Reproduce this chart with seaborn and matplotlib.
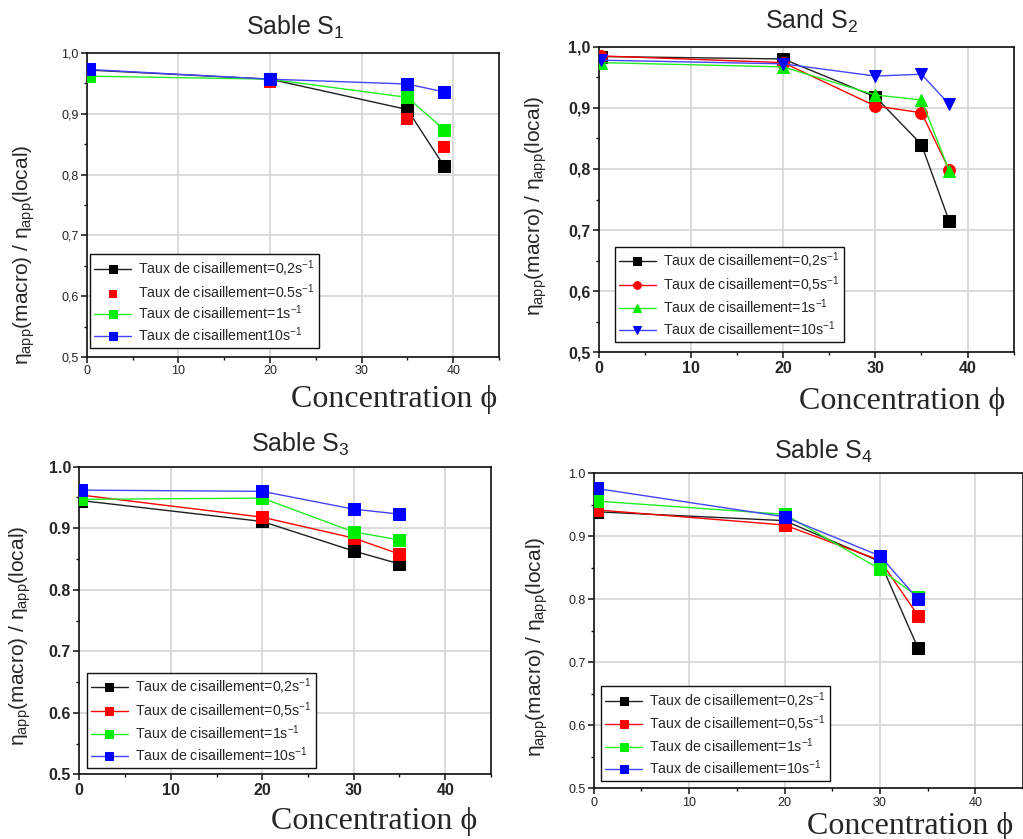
import matplotlib
matplotlib.use("Agg")
import matplotlib.pyplot as plt
from matplotlib.ticker import MultipleLocator, FuncFormatter
import seaborn as sns
import numpy as np

# ---------------- data ----------------
s1_x = [0.2, 20, 35, 39]
s1_02 = [0.972, 0.957, 0.907, 0.814]
s1_05 = [0.970, 0.953, 0.891, 0.846]
s1_1 = [0.962, 0.957, 0.927, 0.874]
s1_10 = [0.973, 0.957, 0.949, 0.936]
s1_labels = ["Taux de cisaillement=0,2s$^{-1}$", "Taux de cisaillement=0.5s$^{-1}$",
             "Taux de cisaillement=1s$^{-1}$", "Taux de cisaillement10s$^{-1}$"]

s2_x = [0.2, 20, 30, 35, 38]
s2_02 = [0.984, 0.980, 0.918, 0.840, 0.715]
s2_05 = [0.985, 0.974, 0.903, 0.892, 0.799]
s2_1 = [0.974, 0.967, 0.921, 0.913, 0.797]
s2_10 = [0.978, 0.972, 0.952, 0.955, 0.906]
s2_labels = ["Taux de cisaillement=0,2s$^{-1}$", "Taux de cisaillement=0,5s$^{-1}$",
             "Taux de cisaillement=1s$^{-1}$", "Taux de cisaillement=10s$^{-1}$"]

s3_x = [0.2, 20, 30, 35]
s3_02 = [0.945, 0.911, 0.863, 0.842]
s3_05 = [0.954, 0.918, 0.884, 0.858]
s3_1 = [0.947, 0.949, 0.894, 0.881]
s3_10 = [0.962, 0.960, 0.931, 0.923]
s3_labels = s2_labels

s4_x = [0.3, 20, 30, 34]
s4_02 = [0.939, 0.925, 0.860, 0.722]
s4_05 = [0.942, 0.918, 0.862, 0.774]
s4_1 = [0.956, 0.935, 0.848, 0.804]
s4_10 = [0.976, 0.931, 0.869, 0.800]
s4_labels = s2_labels

titles = ["Sable S$_1$", "Sand S$_2$", "Sable S$_3$", "Sable S$_4$"]
xlabel = "Concentration ϕ"
ylabel = "η$_{\\rm app}$(macro) / η$_{\\rm app}$(local)"

colors = ["#000000", "#ff0000", "#00ee00", "#0000ff"]
line_colors = ["#202020", "#ff0000", "#22ee22", "#4444ff"]

# ---------------- style ----------------
sns.set_style("ticks")
plt.rcParams["font.family"] = ["Liberation Sans", "DejaVu Sans"]
plt.rcParams["mathtext.fontset"] = "custom"
plt.rcParams["mathtext.rm"] = "Liberation Sans"
plt.rcParams["mathtext.it"] = "Liberation Sans:italic"
plt.rcParams["mathtext.bf"] = "Liberation Sans:bold"

fig = plt.figure(figsize=(10.23, 8.39), dpi=100)

panels = [
    dict(rect=[0.0848, 0.5745, 0.4030, 0.3623], x=s1_x, ys=[s1_02, s1_05, s1_1, s1_10],
         labels=s1_labels, markers=["s", "s", "s", "s"], noline=[False, True, False, False],
         decimal=",", bold=False, tsize=9, leg=(0.008, 0.03), ylab=(-0.12, 0.335),
         title_xy=(0.505, 1.059), xl=(0.4955, -0.092), ms=8),
    dict(rect=[0.5852, 0.5801, 0.4057, 0.3642], x=s2_x, ys=[s2_02, s2_05, s2_1, s2_10],
         labels=s2_labels, markers=["s", "o", "^", "v"], noline=[False] * 4,
         decimal=",", bold=True, tsize=11.5, leg=(0.0386, 0.034), ylab=(-0.12, 0.48),
         title_xy=(0.512, 1.058), xl=(0.482, -0.114), ms=8.5),
    dict(rect=[0.0775, 0.0771, 0.4024, 0.3666], x=s3_x, ys=[s3_02, s3_05, s3_1, s3_10],
         labels=s3_labels, markers=["s", "s", "s", "s"], noline=[False] * 4,
         decimal=".", bold=True, tsize=11.5, leg=(0.018, 0.0205), ylab=(-0.112, 0.45),
         title_xy=(0.536, 1.048), xl=(0.465, -0.105), ms=9),
    dict(rect=[0.5804, 0.0604, 0.4197, 0.3754], x=s4_x, ys=[s4_02, s4_05, s4_1, s4_10],
         labels=s4_labels, markers=["s", "s", "s", "s"], noline=[False] * 4,
         decimal=".", bold=False, tsize=9, leg=(0.017, 0.023), ylab=(-0.102, 0.45),
         title_xy=(0.536, 1.045), xl=(0.497, -0.074), ms=8.5),
]

for k, p in enumerate(panels):
    ax = fig.add_axes(p["rect"])
    for i in range(4):
        if p["noline"][i]:
            sns.scatterplot(x=p["x"], y=p["ys"][i], ax=ax, marker=p["markers"][i],
                            color=colors[i], s=(p["ms"] ** 2), linewidth=0,
                            label=p["labels"][i], zorder=3 + i)
        else:
            sns.lineplot(x=p["x"], y=p["ys"][i], ax=ax, marker=p["markers"][i],
                         color=line_colors[i], markerfacecolor=colors[i],
                         markeredgecolor=colors[i], markersize=p["ms"], linewidth=1.0,
                         label=p["labels"][i], zorder=3 + i)
    ax.set_xlim(0, 45)
    ax.set_ylim(0.5, 1.0)
    ax.xaxis.set_major_locator(MultipleLocator(10))
    ax.xaxis.set_minor_locator(MultipleLocator(5))
    ax.yaxis.set_major_locator(MultipleLocator(0.1))
    ax.yaxis.set_minor_locator(MultipleLocator(0.05))
    dec = p["decimal"]
    ax.yaxis.set_major_formatter(FuncFormatter(lambda v, pos, d=dec: f"{v:.1f}".replace(".", d)))
    ax.xaxis.set_major_formatter(FuncFormatter(lambda v, pos: f"{v:.0f}"))
    ax.grid(True, which="major", color="#d4d4d4", linewidth=1.2)
    ax.set_axisbelow(True)
    for s in ax.spines.values():
        s.set_visible(True)
        s.set_color("#111111")
        s.set_linewidth(1.2)
    ax.tick_params(which="major", direction="out", length=4, width=1.1,
                   labelsize=p["tsize"], color="#111111", pad=2)
    ax.tick_params(which="minor", direction="out", length=2.5, width=1.0, color="#111111")
    ax.tick_params(top=False, right=False, which="both")
    weight = "bold" if p["bold"] else "normal"
    for lab in ax.get_xticklabels() + ax.get_yticklabels():
        lab.set_fontweight(weight)

    ax.set_title(titles[k], fontsize=18, x=p["title_xy"][0], y=p["title_xy"][1], pad=0)
    ax.set_ylabel(ylabel, fontsize=15, ha="center", va="bottom")
    ax.yaxis.set_label_coords(*p["ylab"])
    ax.set_xlabel(xlabel, family=["Liberation Serif", "DejaVu Serif"], fontsize=23,
                  ha="left", va="top")
    ax.xaxis.set_label_coords(*p["xl"])

    leg = ax.legend(loc="lower left", bbox_to_anchor=p["leg"], borderaxespad=0,
                    fontsize=10.2, frameon=True, fancybox=False, framealpha=1,
                    edgecolor="#111111", handlelength=2.6, handletextpad=0.5,
                    borderpad=0.3, labelspacing=0.2, markerscale=0.65)
    leg.get_frame().set_linewidth(1.0)

fig.savefig("out.png", dpi=100)
